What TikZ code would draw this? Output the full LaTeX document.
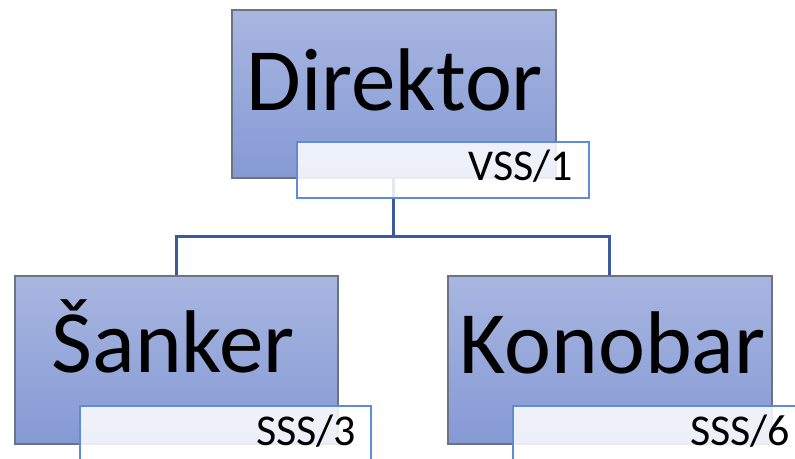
\documentclass[tikz,border=0pt]{standalone}
\usepackage{fontspec}
\setmainfont{Carlito}
\definecolor{boxtop}{RGB}{168,182,224}
\definecolor{boxbottom}{RGB}{133,153,212}
\definecolor{boxgray}{RGB}{110,115,130}
\definecolor{tagblue}{RGB}{95,140,212}
\definecolor{linkblue}{RGB}{60,90,160}
\begin{document}
\begin{tikzpicture}[x=1pt,y=-1pt,
	unitbox/.style={draw=boxgray,line width=1.5pt,top color=boxtop,bottom color=boxbottom,anchor=north west,inner sep=0pt,minimum width=#1,minimum height=168pt},
	tagbox/.style={draw=tagblue,line width=1.6pt,fill=white,fill opacity=0.86,anchor=north west,inner sep=0pt,minimum width=292pt,minimum height=56pt},
	bigtext/.style={font=\fontsize{89}{94}\selectfont,anchor=base},
	tagtext/.style={font=\fontsize{44}{48}\selectfont,anchor=base east},
	link/.style={draw=linkblue,line width=3pt}]
	\useasboundingbox (0,0) rectangle (795,458);
	\clip (0,0) rectangle (795,458);
	%Kutije
	\node [unitbox=324pt] (dir) at (231,9) {};
	\node [unitbox=323pt] (sank) at (14,275) {};
	\node [unitbox=324pt] (kono) at (447,275) {};
	%Veze
	\draw [link] (dir.south) -- ++(0,57.5) -| (sank.north);
	\draw [link] (dir.south) -- ++(0,57.5) -| (kono.north);
	%Oznake
	\node [tagbox] (dirtag) at (296,141) {};
	\node [tagbox,minimum width=291pt] (sanktag) at (79,405) {};
	\node [tagbox] (konotag) at (512,405) {};
	%Tekst
	\node [bigtext] (dirtext) at ([xshift=1pt,yshift=-101pt]dir.north) {Direktor};
	\node [bigtext] (sanktext) at ([xshift=-3pt,yshift=-97pt]sank.north) {Šanker};
	\node [bigtext] (konotext) at ([xshift=3pt,yshift=-98pt]kono.north) {Konobar};
	\node [tagtext] (dirlabel) at ([xshift=-13pt,yshift=-39pt]dirtag.north east) {VSS/1};
	\node [tagtext] (sanklabel) at ([xshift=-12pt,yshift=-40pt]sanktag.north east) {SSS/3};
	\node [tagtext] (konolabel) at ([xshift=-12pt,yshift=-40pt]konotag.north east) {SSS/6};
\end{tikzpicture}
\end{document}
